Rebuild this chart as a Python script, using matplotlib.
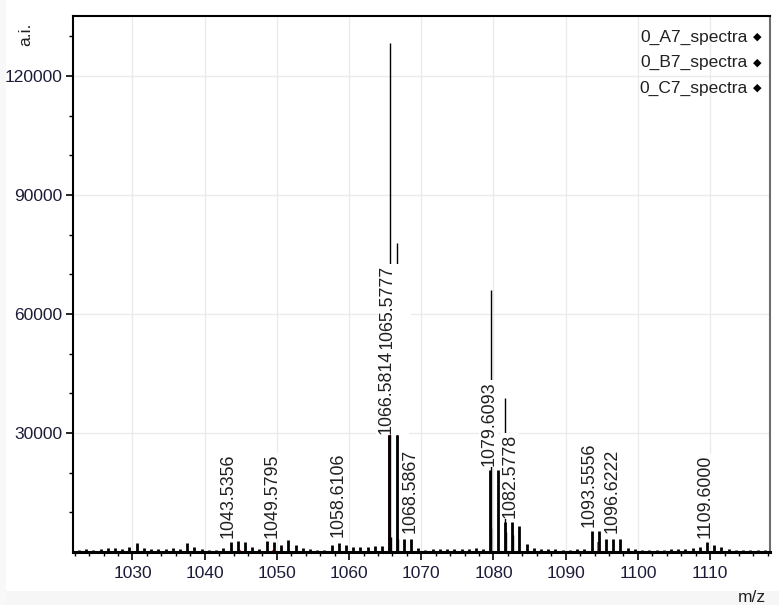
import numpy as np
import matplotlib
matplotlib.use("Agg")
import matplotlib.pyplot as plt
from matplotlib.patches import Rectangle

plt.rcParams['font.family'] = ['Liberation Sans', 'DejaVu Sans']

# main spectrum (0_A7), one stick per nominal mass
a7_mz = np.arange(1022, 1118) + 0.58
a7_int = [600, 700, 600, 700, 1000, 900, 700, 1300, 2300, 1000,
          700, 700, 700, 1000, 700, 2300, 1300, 850, 500, 500,
          1000, 2500, 2700, 2500, 1300, 700, 2700, 2500, 1700, 2900,
          1700, 1000, 700, 500, 500, 1700, 2300, 1700, 1300, 1300,
          1300, 1500, 1500, 29500, 29500, 3300, 3300, 1000, 600, 700,
          850, 700, 850, 700, 700, 1000, 700, 20700, 20600, 7600,
          7600, 6500, 2100, 1000, 700, 700, 850, 500, 500, 700,
          850, 5300, 5300, 3200, 3200, 3200, 1100, 700, 500, 500,
          500, 500, 700, 850, 700, 1000, 1300, 2500, 1700, 1300,
          700, 500, 500, 500, 500, 500]

# second spectrum (0_B7): tall thin peaks + shoulders
b7_mz = [1065.60, 1066.62, 1079.62, 1081.62, 1065.78, 1066.78, 1079.72, 1081.74, 1082.74]
b7_int = [128200, 77900, 66000, 38800, 3800, 3400, 6000, 5000, 4200]

# third spectrum (0_C7), drawn in red underneath
c7_mz = [1044.9, 1049.5, 1065.50, 1068.0, 1079.6, 1082.0, 1094.45]
c7_int = [400, 400, 29600, 300, 300, 300, 2500]

legend_names = ['0_A7_spectra', '0_B7_spectra', '0_C7_spectra']

# peak labels: mass, intensity of the labelled stick
label_mz = [1043.5356, 1049.5795, 1058.6106, 1065.5777, 1066.5814, 1068.5867,
            1079.6093, 1082.5778, 1093.5556, 1096.6222, 1109.6000]
label_int = [2500, 2500, 2300, 29500, 29500, 3300, 20700, 7600, 5300, 3200, 2500]

fig = plt.figure(figsize=(7.79, 6.05), dpi=100)
fig.patch.set_facecolor('white')
fig.patches.append(Rectangle((0, 0), 1, 14 / 605, transform=fig.transFigure,
                             facecolor='#f6f6f6', edgecolor='none', zorder=-5))
fig.patches.append(Rectangle((0, 0), 6 / 779, 1, transform=fig.transFigure,
                             facecolor='#f8f8f8', edgecolor='none', zorder=-5))

ax = fig.add_axes([73 / 779, 1 - 552 / 605, 697 / 779, 536 / 605])
ax.set_xlim(1021.76, 1118.3)
ax.set_ylim(0, 135100)

ax.vlines(c7_mz, 0, c7_int, color='#e8323a', lw=1.3, zorder=2)
ax.vlines(b7_mz, 0, b7_int, color='black', lw=1.0, zorder=3)
ax.vlines(a7_mz, 0, a7_int, color='black', lw=2.0, zorder=4)

ax.set_xticks(np.arange(1030, 1111, 10))
ax.set_xticks(np.arange(1022, 1119, 2), minor=True)
ax.set_yticks([30000, 60000, 90000, 120000])
ax.set_yticks(np.arange(10000, 135000, 10000), minor=True)
ax.grid(True, which='major', color='#ebebeb', lw=1.0, zorder=0)
ax.set_axisbelow(True)

tick_color = '#1c1c38'
ax.tick_params(which='major', width=1.2, labelsize=12.5,
               labelcolor=tick_color, color='black')
ax.tick_params(axis='x', which='major', length=5.5, pad=4.5)
ax.tick_params(axis='y', which='major', length=4.8, pad=3.0)
ax.tick_params(which='minor', length=3, width=1.0, color='black')

for side in ['left', 'top']:
    ax.spines[side].set_linewidth(1.5)
    ax.spines[side].set_color('black')
ax.spines['right'].set_color('#6e6e6e')
ax.spines['right'].set_linewidth(1.5)
ax.spines['bottom'].set_linewidth(2.2)

# label offsets in pixels (dx, dy) relative to the peak top;
# the stacked pair gets a wider white box that hides the B7 lines under it
offsets = {1066.5814: (-4, 1), 1065.5777: (5, 86), 1068.5867: (-1, 6),
           1058.6106: (-1, 6), 1096.6222: (-1, 6)}
wide = {1065.5777, 1066.5814}
for mz, h in zip(label_mz, label_int):
    dx, dy = offsets.get(mz, (-2, 4))
    txt = f'{mz:.4f}'
    if mz in wide:
        txt += '\n '
    ax.annotate(txt, xy=(mz, h), xytext=(dx, dy),
                textcoords='offset pixels', rotation=90, ha='center',
                va='bottom', fontsize=12.9, color='#202020', zorder=6,
                linespacing=0.75,
                bbox=dict(boxstyle='square,pad=0.05', fc='white', ec='none'))

# legend entries top right
for i, name in enumerate(legend_names):
    y = 1 - (37 + 25.5 * i) / 605
    fig.text(748 / 779, y, name, ha='right', va='center', fontsize=12.5,
             color='#202020')
    fig.text(757 / 779, y, '\u25c6', ha='center', va='center', fontsize=8,
             color='black', family=['DejaVu Sans'])

fig.text(26 / 779, 1 - 34 / 605, 'a.i.', rotation=90, ha='center',
         va='center', fontsize=12.5, color='#202020')
fig.text(752 / 779, 1 - 597 / 605, 'm/z', ha='center', va='center',
         fontsize=12.5, color='#202020')

fig.savefig('out.png', dpi=100)
